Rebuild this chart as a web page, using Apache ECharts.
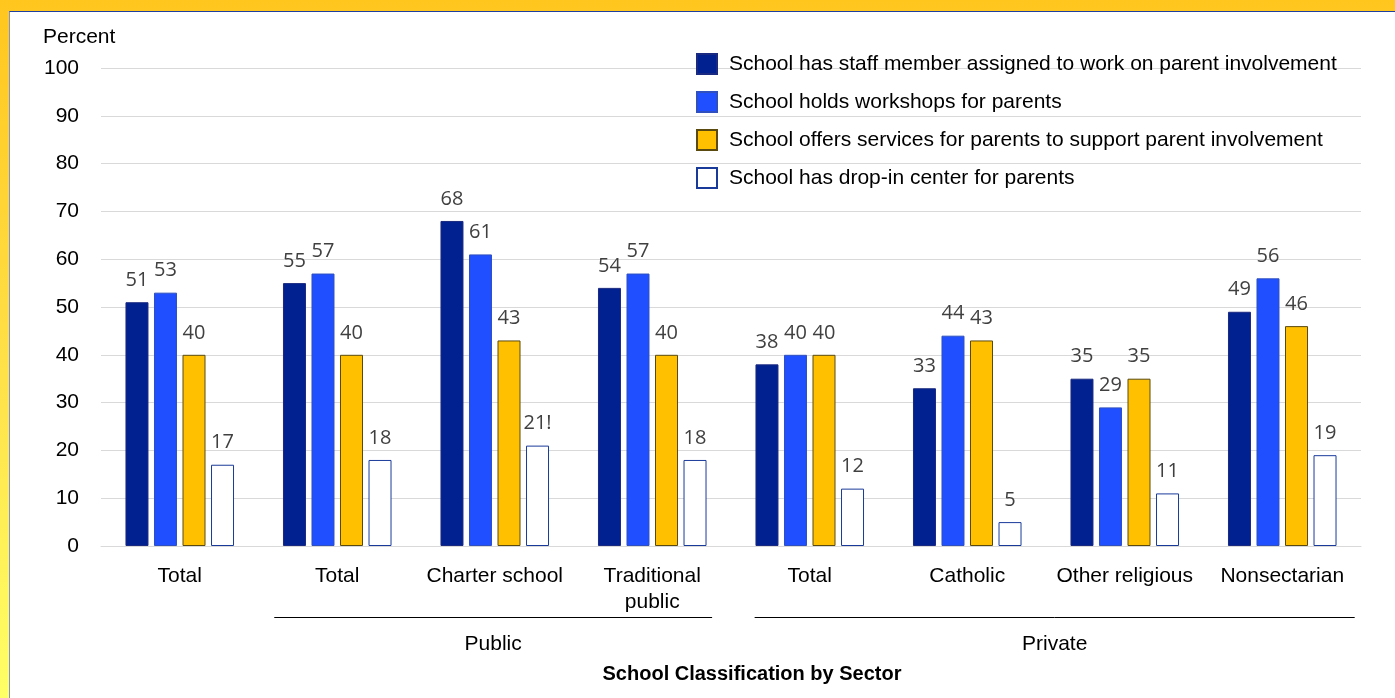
<!DOCTYPE html>
<html>
<head>
<meta charset="utf-8">
<script src="https://cdn.jsdelivr.net/npm/echarts@6/dist/echarts.min.js"></script>
<style>
  html, body { margin: 0; padding: 0; }
  body {
    width: 1395px; height: 698px; overflow: hidden; position: relative;
    background: linear-gradient(180deg, #ffc61e 0%, #ffe24a 55%, #ffff66 100%);
  }
  #frame {
    position: absolute; left: 9px; top: 11px; right: 0; bottom: 0;
    background: #fff;
    border-left: 1px solid #8090d0;
    border-top: 1px solid #2040a0;
  }
  #main { position: absolute; left: 0; top: 0; width: 1395px; height: 698px; }
</style>
</head>
<body>
<div id="frame"></div>
<div id="main"></div>
<script>
const categories = ['Total', 'Total', 'Charter school', 'Traditional\npublic', 'Total', 'Catholic', 'Other religious', 'Nonsectarian'];
const seriesNames = [
  'School has staff member assigned to work on parent involvement',
  'School holds workshops for parents',
  'School offers services for parents to support parent involvement',
  'School has drop-in center for parents'
];
const staffMember = [51, 55, 68, 54, 38, 33, 35, 49];
const workshops = [53, 57, 61, 57, 40, 44, 29, 56];
const services = [40, 40, 43, 40, 40, 43, 35, 46];
const dropIn = [17, 18, 21, 18, 12, 5, 11, 19];
const dropInNotes = ['', '', '!', '', '', '', '', ''];
const yTicks = [0, 10, 20, 30, 40, 50, 60, 70, 80, 90, 100];
const sectors = [
  { name: 'Public', from: 1, to: 3 },
  { name: 'Private', from: 4, to: 7 }
];

const colors = ['#00218f', '#1f4fff', '#ffc000', '#ffffff'];
const borders = ['#1a2a80', '#3050c0', '#5a4a10', '#1a3a9a'];
const values = [staffMember, workshops, services, dropIn];

const labelStyle = {
  show: true,
  position: 'top',
  distance: 12,
  color: '#404040',
  fontFamily: 'Open Sans',
  fontSize: 20
};

const series = values.map((data, i) => ({
  name: seriesNames[i],
  type: 'bar',
  data: data,
  barWidth: 23,
  barGap: '24%',
  itemStyle: { color: colors[i], borderColor: borders[i], borderWidth: 1 },
  label: i === 3
    ? Object.assign({}, labelStyle, { formatter: p => p.value + dropInNotes[p.dataIndex] })
    : labelStyle
}));

const chart = echarts.init(document.getElementById('main'));
chart.setOption({
  animation: false,
  backgroundColor: 'transparent',
  textStyle: { fontFamily: 'Liberation Sans, Arial, sans-serif' },
  title: {
    text: 'Percent',
    left: 38, top: 22,
    textStyle: { fontSize: 21, fontWeight: 'normal', color: '#000', fontFamily: 'Liberation Sans' }
  },
  legend: {
    orient: 'vertical',
    left: 691, top: 47,
    icon: 'rect',
    itemWidth: 20, itemHeight: 20, itemGap: 14,
    selectedMode: false,
    data: seriesNames,
    textStyle: { fontSize: 21, lineHeight: 24, color: '#000', fontFamily: 'Liberation Sans', padding: [0, 0, 0, 7] }
  },
  grid: { left: 101, right: 34, top: 68, bottom: 152 },
  xAxis: {
    type: 'category',
    data: categories,
    axisTick: { show: false },
    axisLine: { lineStyle: { color: '#d9d9d9' } },
    axisLabel: { fontSize: 21, color: '#000', margin: 17, lineHeight: 26, interval: 0, fontFamily: 'Liberation Sans' }
  },
  yAxis: {
    type: 'value',
    min: 0, max: 100, interval: 10,
    axisLine: { show: false },
    axisTick: { show: false },
    splitLine: { lineStyle: { color: '#d9d9d9' } },
    axisLabel: {
      fontSize: 21, color: '#000', margin: 22, fontFamily: 'Liberation Sans',
      formatter: v => (yTicks.indexOf(v) >= 0 ? String(v) : '')
    }
  },
  series: series
});

// sector brackets under the category labels
const insets = [[0.40, 0.38], [0.35, 0.46]];
const step = chart.convertToPixel({ xAxisIndex: 0 }, 1) - chart.convertToPixel({ xAxisIndex: 0 }, 0);
const graphics = [];
sectors.forEach((s, i) => {
  const x1 = chart.convertToPixel({ xAxisIndex: 0 }, s.from) - insets[i][0] * step;
  const x2 = chart.convertToPixel({ xAxisIndex: 0 }, s.to) + insets[i][1] * step;
  graphics.push({
    type: 'line',
    shape: { x1: x1, y1: 617.5, x2: x2, y2: 617.5 },
    style: { stroke: '#000', lineWidth: 1 }
  });
  graphics.push({
    type: 'text',
    x: (x1 + x2) / 2, y: 644,
    style: { text: s.name, fill: '#000', fontSize: 21, fontFamily: 'Liberation Sans', align: 'center', verticalAlign: 'middle' }
  });
});
graphics.push({
  type: 'text',
  x: 752, y: 674,
  style: { text: 'School Classification by Sector', fill: '#000', fontSize: 20, fontWeight: 'bold', fontFamily: 'Liberation Sans', align: 'center', verticalAlign: 'middle' }
});
chart.setOption({ graphic: graphics });
</script>
</body>
</html>
